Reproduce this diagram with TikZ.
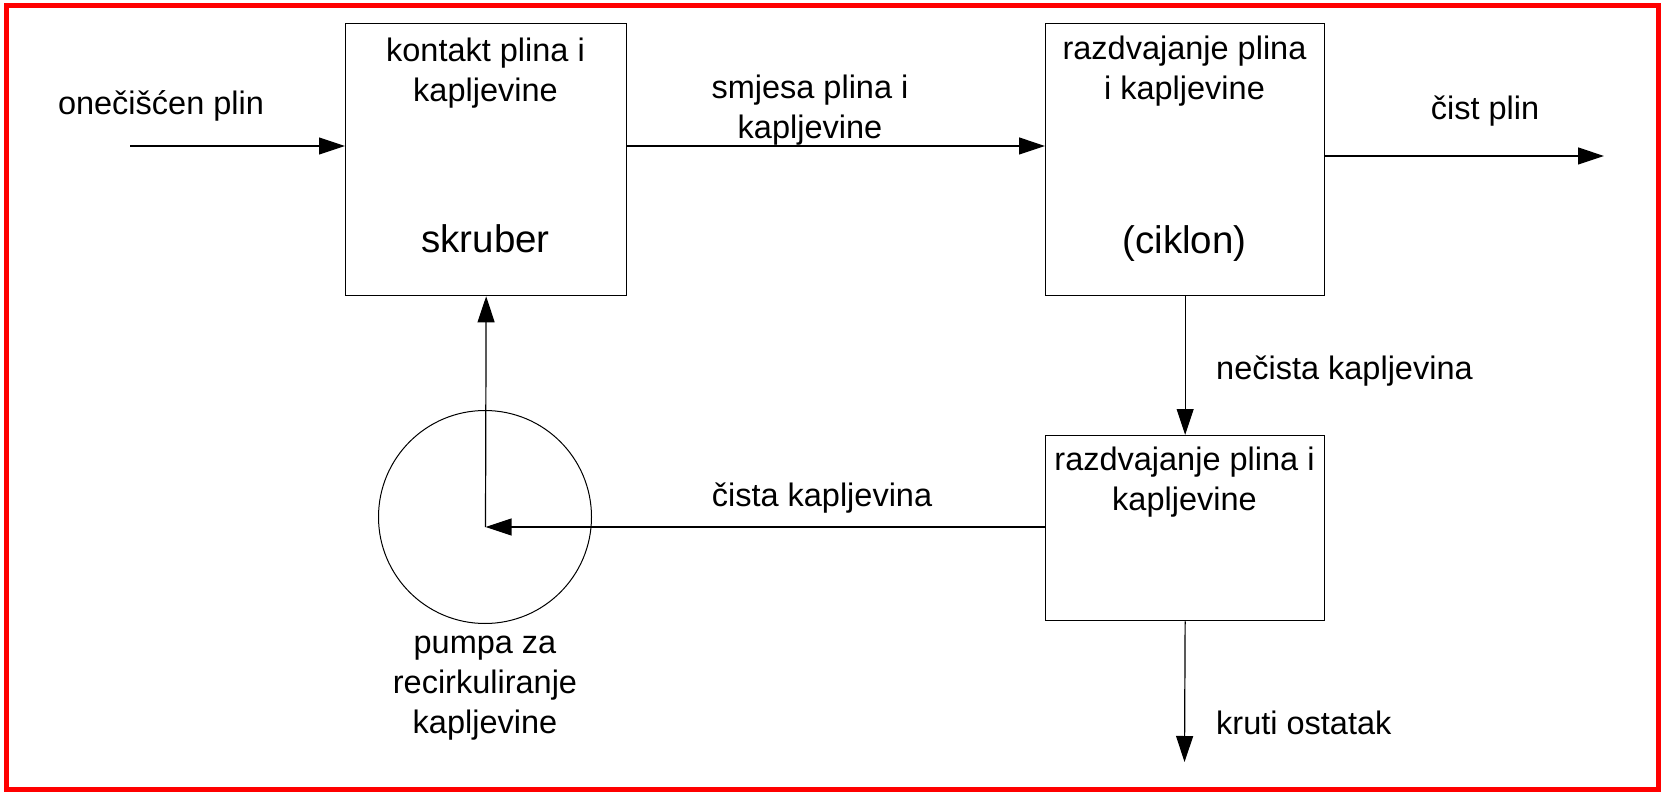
\documentclass[tikz,border=0pt]{standalone}
\usepackage{fontspec}
\setmainfont{Liberation Sans}
\usetikzlibrary{arrows.meta}
\begin{document}
\begin{tikzpicture}[x=1pt,y=-1pt,
  box/.style={draw, line width=1.3pt, inner sep=0pt, anchor=north west},
  lbl/.style={font=\fontsize{32.5}{40}\selectfont, align=center, inner sep=0pt},
  big/.style={font=\fontsize{38.5}{46}\selectfont, inner sep=0pt},
  flow/.style={line width=1.2pt, -{Triangle[length=26pt,width=17pt]}}]
\useasboundingbox (0,0) rectangle (1663,794);
\draw[red, line width=5pt] (6,6) rectangle (1658,789);
% boxes
\node[box, minimum width=281pt, minimum height=272pt] (scrub) at (345,23) {};
\node[box, minimum width=279pt, minimum height=272pt] (cyc) at (1045,23) {};
\node[box, minimum width=279pt, minimum height=185pt] (sep) at (1045,435) {};
\node[draw, circle, line width=1pt, minimum size=213pt, inner sep=0pt] (pump) at (485,517) {};
% box texts
\node[lbl] (t1) at (485.5,73) {kontakt plina i\\kapljevine};
\node[big] (t2) at (485.5,239) {skruber};
\node[lbl] (t3) at (1184.5,71) {razdvajanje plina\\i kapljevine};
\node[big] (t4) at (1184.5,244) {(ciklon)};
\node[lbl] (t5) at (1184.5,482) {razdvajanje plina i\\kapljevine};
% flow labels
\node[lbl] (l1) at (161,106) {onečišćen plin};
\node[lbl] (l2) at (810,110) {smjesa plina i\\kapljevine};
\node[lbl] (l3) at (1485,111) {čist plin};
\node[lbl, anchor=west] (l4) at (1216,371) {nečista kapljevina};
\node[lbl] (l5) at (822,498) {čista kapljevina};
\node[lbl] (l6) at (485,688) {pumpa za\\recirkuliranje\\kapljevine};
\node[lbl, anchor=west] (l7) at (1216,723) {kruti ostatak};
% coordinates
\coordinate (in) at (130,146);
\coordinate (out) at (1604,156);
\coordinate (pc) at (485.5,527);
\coordinate (solid) at (1184.5,762);
% connectors
\draw[flow] (in) -- (in -| scrub.west);
\draw[flow] (in -| scrub.east) -- (in -| cyc.west);
\draw[flow] (out -| cyc.east) -- (out);
\draw[flow] (cyc.south) -- (sep.north);
\draw[flow] (pc -| sep.west) -- (pc);
\draw[flow] (pc) -- (scrub.south);
\draw[flow] (sep.south) -- (solid);
\end{tikzpicture}
\end{document}
